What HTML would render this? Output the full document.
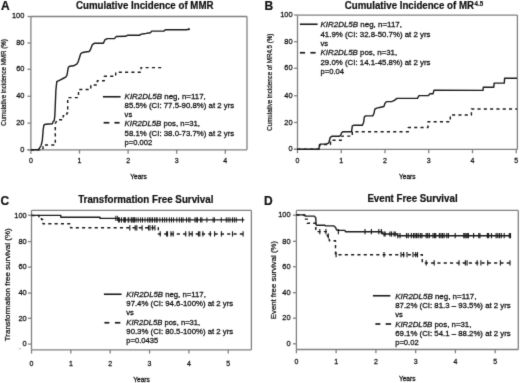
<!DOCTYPE html>
<html><head><meta charset="utf-8"><style>
html,body{margin:0;padding:0;background:#fff;overflow:hidden;width:520px;height:383px;}
svg{display:block;font-family:"Liberation Sans", sans-serif;filter:grayscale(1);}
</style></head><body>
<svg width="520" height="383" viewBox="0 0 520 383" font-family='"Liberation Sans", sans-serif'>
<style>text{stroke:#111;stroke-width:0.26px;} text[font-weight="bold"]{stroke-width:0.2px;}</style>
<defs><filter id="bl" x="0" y="0" width="520" height="383" filterUnits="userSpaceOnUse" color-interpolation-filters="sRGB"><feConvolveMatrix order="3" kernelMatrix="0.0113 0.0838 0.0113 0.0838 0.6193 0.0838 0.0113 0.0838 0.0113" edgeMode="duplicate"/></filter></defs>
<g filter="url(#bl)">
<rect width="520" height="383" fill="#fff"/>
<text x="1.1" y="9.5" font-size="12" text-anchor="start" font-weight="bold" font-style="normal" fill="#111">A</text>
<text x="76.0" y="9.0" font-size="10.2" text-anchor="start" font-weight="bold" font-style="normal" fill="#111" textLength="137.5" lengthAdjust="spacingAndGlyphs">Cumulative Incidence of MMR</text>
<line x1="30.9" y1="16.5" x2="247" y2="16.5" stroke="#808080" stroke-width="1.3"/>
<line x1="247" y1="16.5" x2="247" y2="149.85" stroke="#808080" stroke-width="1.3"/>
<line x1="30.9" y1="16.5" x2="30.9" y2="149.85" stroke="#808080" stroke-width="1.3"/>
<line x1="27.299999999999997" y1="149.85" x2="247" y2="149.85" stroke="#808080" stroke-width="1.3"/>
<line x1="27.5" y1="149.9" x2="30.9" y2="149.9" stroke="#808080" stroke-width="1.3"/>
<text x="24.4" y="152" font-size="8.0" text-anchor="end" font-weight="normal" font-style="normal" fill="#111" textLength="4.14" lengthAdjust="spacingAndGlyphs">0</text>
<line x1="27.5" y1="123.1" x2="30.9" y2="123.1" stroke="#808080" stroke-width="1.3"/>
<text x="24.4" y="125" font-size="8.0" text-anchor="end" font-weight="normal" font-style="normal" fill="#111" textLength="8.27" lengthAdjust="spacingAndGlyphs">20</text>
<line x1="27.5" y1="96.3" x2="30.9" y2="96.3" stroke="#808080" stroke-width="1.3"/>
<text x="24.4" y="98" font-size="8.0" text-anchor="end" font-weight="normal" font-style="normal" fill="#111" textLength="8.27" lengthAdjust="spacingAndGlyphs">40</text>
<line x1="27.5" y1="69.3" x2="30.9" y2="69.3" stroke="#808080" stroke-width="1.3"/>
<text x="24.4" y="71" font-size="8.0" text-anchor="end" font-weight="normal" font-style="normal" fill="#111" textLength="8.27" lengthAdjust="spacingAndGlyphs">60</text>
<line x1="27.5" y1="43" x2="30.9" y2="43" stroke="#808080" stroke-width="1.3"/>
<text x="24.4" y="45" font-size="8.0" text-anchor="end" font-weight="normal" font-style="normal" fill="#111" textLength="8.27" lengthAdjust="spacingAndGlyphs">80</text>
<line x1="27.5" y1="16.5" x2="30.9" y2="16.5" stroke="#808080" stroke-width="1.3"/>
<text x="24.4" y="18" font-size="8.0" text-anchor="end" font-weight="normal" font-style="normal" fill="#111" textLength="12.41" lengthAdjust="spacingAndGlyphs">100</text>
<line x1="30.9" y1="149.85" x2="30.9" y2="153.65" stroke="#808080" stroke-width="1.3"/>
<text x="30.9" y="163.2" font-size="7.8" text-anchor="middle" font-weight="normal" font-style="normal" fill="#111" textLength="3.9" lengthAdjust="spacingAndGlyphs">0</text>
<line x1="79.5" y1="149.85" x2="79.5" y2="153.65" stroke="#808080" stroke-width="1.3"/>
<text x="79.5" y="163.2" font-size="7.8" text-anchor="middle" font-weight="normal" font-style="normal" fill="#111" textLength="3.9" lengthAdjust="spacingAndGlyphs">1</text>
<line x1="128.1" y1="149.85" x2="128.1" y2="153.65" stroke="#808080" stroke-width="1.3"/>
<text x="128.1" y="163.2" font-size="7.8" text-anchor="middle" font-weight="normal" font-style="normal" fill="#111" textLength="3.9" lengthAdjust="spacingAndGlyphs">2</text>
<line x1="176.70000000000002" y1="149.85" x2="176.70000000000002" y2="153.65" stroke="#808080" stroke-width="1.3"/>
<text x="176.70000000000002" y="163.2" font-size="7.8" text-anchor="middle" font-weight="normal" font-style="normal" fill="#111" textLength="3.9" lengthAdjust="spacingAndGlyphs">3</text>
<line x1="225.3" y1="149.85" x2="225.3" y2="153.65" stroke="#808080" stroke-width="1.3"/>
<text x="225.3" y="163.2" font-size="7.8" text-anchor="middle" font-weight="normal" font-style="normal" fill="#111" textLength="3.9" lengthAdjust="spacingAndGlyphs">4</text>
<text x="138.5" y="179" font-size="6.6" text-anchor="middle" font-weight="normal" font-style="normal" fill="#111">Years</text>
<text transform="translate(6.3,82.5) rotate(-90)" font-size="7.0" text-anchor="middle" fill="#111" style="stroke-width:0.24px" textLength="86.6" lengthAdjust="spacingAndGlyphs">Cumulative incidence MMR (%)</text>
<line x1="102.9" y1="96.75" x2="120.6" y2="96.75" stroke="#1a1a1a" stroke-width="1.6"/>
<line x1="103.65" y1="122.75" x2="109.35" y2="122.75" stroke="#1a1a1a" stroke-width="1.7"/>
<line x1="114.4" y1="122.75" x2="119.6" y2="122.75" stroke="#1a1a1a" stroke-width="1.7"/>
<text x="124.6" y="98.8" font-size="7.6" fill="#111" textLength="81.2" lengthAdjust="spacingAndGlyphs"><tspan font-style="italic">KIR2DL5B</tspan> neg, n=117,</text>
<text x="124.6" y="108.0" font-size="7.6" fill="#111" textLength="109.7" lengthAdjust="spacingAndGlyphs">85.5% (CI: 77.5-90.8%) at 2 yrs</text>
<text x="124.6" y="117.2" font-size="7.6" fill="#111">vs</text>
<text x="124.6" y="126.4" font-size="7.6" fill="#111" textLength="75.4" lengthAdjust="spacingAndGlyphs"><tspan font-style="italic">KIR2DL5B</tspan> pos, n=31,</text>
<text x="124.6" y="135.6" font-size="7.6" fill="#111" textLength="109.7" lengthAdjust="spacingAndGlyphs">58.1% (CI: 38.0-73.7%) at 2 yrs</text>
<text x="124.6" y="144.8" font-size="7.6" fill="#111">p=0.002</text>
<circle cx="188.9" cy="29.3" r="1.0" fill="#1a1a1a"/>
<polyline points="30.90,149.70 37.80,149.70 39.50,148.20 41.10,145.50 42.30,140.60 43.20,129.50 43.90,125.20 45.40,124.20 52.40,123.80 53.20,121.40 54.20,120.90 54.80,116.00 55.30,105.00 55.90,90.00 56.80,81.70 57.80,81.10 60.40,79.80 63.00,78.50 65.70,77.20 67.00,75.20 68.30,67.40 69.60,66.30 73.50,65.80 76.70,64.10 78.00,62.20 80.70,53.70 82.00,52.70 85.20,52.00 89.10,51.50 90.40,49.80 92.40,44.60 94.30,43.30 103.40,43.20 104.80,39.90 107.20,38.60 114.40,38.60 116.30,36.50 125.50,36.30 127.40,35.30 139.40,35.30 141.30,34.10 144.20,33.70 146.20,33.40 148.10,33.00 150.60,32.70 151.60,31.10 163.80,31.10 165.40,29.70 186.50,29.70 188.70,29.30 189.50,29.30" fill="none" stroke="#1a1a1a" stroke-width="1.4" stroke-linejoin="round"/>
<polyline points="30.90,149.85 43.00,149.85 43.00,145.00 55.30,145.00 55.30,123.30 57.60,119.70 63.20,119.70 63.20,115.60 66.80,115.60 66.80,113.00 67.70,113.00 67.70,113.00 67.70,97.60 78.50,97.60 78.50,89.50 90.80,89.50 90.80,85.00 97.30,85.00 97.30,80.70 104.30,80.70 104.30,76.30 115.70,76.30 115.70,72.30 141.00,72.30 141.00,67.60 161.50,67.60" fill="none" stroke="#1a1a1a" stroke-width="1.45" stroke-linejoin="round" stroke-dasharray="3.1,3.2"/>
<text x="264.4" y="9.6" font-size="12" text-anchor="start" font-weight="bold" font-style="normal" fill="#111">B</text>
<text x="344.8" y="8.6" font-size="10.1" font-weight="bold" fill="#111" textLength="129.2" lengthAdjust="spacingAndGlyphs">Cumulative Incidence of MR</text>
<text x="474.5" y="5.5" font-size="6.6" text-anchor="start" font-weight="bold" font-style="normal" fill="#111" textLength="8.6" lengthAdjust="spacingAndGlyphs">4.5</text>
<line x1="297.5" y1="15.05" x2="517.4" y2="15.05" stroke="#808080" stroke-width="1.3"/>
<line x1="517.4" y1="15.05" x2="517.4" y2="149.45" stroke="#808080" stroke-width="1.3"/>
<line x1="297.5" y1="15.05" x2="297.5" y2="149.45" stroke="#808080" stroke-width="1.3"/>
<line x1="293.9" y1="149.45" x2="517.4" y2="149.45" stroke="#808080" stroke-width="1.3"/>
<line x1="294.1" y1="149.25" x2="297.5" y2="149.25" stroke="#808080" stroke-width="1.3"/>
<text x="292.6" y="151" font-size="8.0" text-anchor="end" font-weight="normal" font-style="normal" fill="#111" textLength="4.14" lengthAdjust="spacingAndGlyphs">0</text>
<line x1="294.1" y1="122.5" x2="297.5" y2="122.5" stroke="#808080" stroke-width="1.3"/>
<text x="292.6" y="125" font-size="8.0" text-anchor="end" font-weight="normal" font-style="normal" fill="#111" textLength="8.27" lengthAdjust="spacingAndGlyphs">20</text>
<line x1="294.1" y1="95.75" x2="297.5" y2="95.75" stroke="#808080" stroke-width="1.3"/>
<text x="292.6" y="98" font-size="8.0" text-anchor="end" font-weight="normal" font-style="normal" fill="#111" textLength="8.27" lengthAdjust="spacingAndGlyphs">40</text>
<line x1="294.1" y1="68.25" x2="297.5" y2="68.25" stroke="#808080" stroke-width="1.3"/>
<text x="292.6" y="70" font-size="8.0" text-anchor="end" font-weight="normal" font-style="normal" fill="#111" textLength="8.27" lengthAdjust="spacingAndGlyphs">60</text>
<line x1="294.1" y1="41.75" x2="297.5" y2="41.75" stroke="#808080" stroke-width="1.3"/>
<text x="292.6" y="44" font-size="8.0" text-anchor="end" font-weight="normal" font-style="normal" fill="#111" textLength="8.27" lengthAdjust="spacingAndGlyphs">80</text>
<line x1="294.1" y1="15.0" x2="297.5" y2="15.0" stroke="#808080" stroke-width="1.3"/>
<text x="292.6" y="17" font-size="8.0" text-anchor="end" font-weight="normal" font-style="normal" fill="#111" textLength="12.41" lengthAdjust="spacingAndGlyphs">100</text>
<line x1="297.5" y1="149.45" x2="297.5" y2="153.25" stroke="#808080" stroke-width="1.3"/>
<text x="297.5" y="163.2" font-size="7.8" text-anchor="middle" font-weight="normal" font-style="normal" fill="#111" textLength="3.9" lengthAdjust="spacingAndGlyphs">0</text>
<line x1="341.25" y1="149.45" x2="341.25" y2="153.25" stroke="#808080" stroke-width="1.3"/>
<text x="341.25" y="163.2" font-size="7.8" text-anchor="middle" font-weight="normal" font-style="normal" fill="#111" textLength="3.9" lengthAdjust="spacingAndGlyphs">1</text>
<line x1="385.0" y1="149.45" x2="385.0" y2="153.25" stroke="#808080" stroke-width="1.3"/>
<text x="385.0" y="163.2" font-size="7.8" text-anchor="middle" font-weight="normal" font-style="normal" fill="#111" textLength="3.9" lengthAdjust="spacingAndGlyphs">2</text>
<line x1="428.75" y1="149.45" x2="428.75" y2="153.25" stroke="#808080" stroke-width="1.3"/>
<text x="428.75" y="163.2" font-size="7.8" text-anchor="middle" font-weight="normal" font-style="normal" fill="#111" textLength="3.9" lengthAdjust="spacingAndGlyphs">3</text>
<line x1="472.5" y1="149.45" x2="472.5" y2="153.25" stroke="#808080" stroke-width="1.3"/>
<text x="472.5" y="163.2" font-size="7.8" text-anchor="middle" font-weight="normal" font-style="normal" fill="#111" textLength="3.9" lengthAdjust="spacingAndGlyphs">4</text>
<line x1="516.25" y1="149.45" x2="516.25" y2="153.25" stroke="#808080" stroke-width="1.3"/>
<text x="516.25" y="163.2" font-size="7.8" text-anchor="middle" font-weight="normal" font-style="normal" fill="#111" textLength="3.9" lengthAdjust="spacingAndGlyphs">5</text>
<text x="407.3" y="179" font-size="6.6" text-anchor="middle" font-weight="normal" font-style="normal" fill="#111">Years</text>
<text transform="translate(272.3,82.2) rotate(-90)" font-size="7.0" text-anchor="middle" fill="#111" style="stroke-width:0.24px" textLength="97.2" lengthAdjust="spacingAndGlyphs">Cumulative incidence of MR4.5 (%)</text>
<line x1="299.9" y1="24.25" x2="317.6" y2="24.25" stroke="#1a1a1a" stroke-width="1.6"/>
<line x1="299.9" y1="52.75" x2="305.1" y2="52.75" stroke="#1a1a1a" stroke-width="1.7"/>
<line x1="310.4" y1="52.75" x2="315.6" y2="52.75" stroke="#1a1a1a" stroke-width="1.7"/>
<text x="320.5" y="27.2" font-size="7.6" fill="#111" textLength="81.5" lengthAdjust="spacingAndGlyphs"><tspan font-style="italic">KIR2DL5B</tspan> neg, n=117,</text>
<text x="320.5" y="36.6" font-size="7.6" fill="#111" textLength="110.0" lengthAdjust="spacingAndGlyphs">41.9% (CI: 32.8-50.7%) at 2 yrs</text>
<text x="320.5" y="46.0" font-size="7.6" fill="#111">vs</text>
<text x="320.5" y="55.4" font-size="7.6" fill="#111" textLength="76.7" lengthAdjust="spacingAndGlyphs"><tspan font-style="italic">KIR2DL5B</tspan> pos, n=31,</text>
<text x="320.5" y="64.8" font-size="7.6" fill="#111" textLength="110.0" lengthAdjust="spacingAndGlyphs">29.0% (CI: 14.1-45.8%) at 2 yrs</text>
<text x="320.5" y="74.2" font-size="7.6" fill="#111">p=0.04</text>
<polyline points="297.40,149.30 318.90,149.30 319.40,144.80 320.90,144.10 326.30,144.10 328.80,142.80 330.30,137.30 331.80,136.30 339.20,136.30 340.70,135.30 341.50,132.90 342.70,131.70 351.60,131.70 352.30,125.90 354.10,125.20 362.40,125.20 363.70,122.20 364.30,117.00 365.70,115.90 372.80,115.90 374.10,113.00 374.80,109.10 376.70,108.10 380.70,107.20 383.90,106.50 385.00,103.30 386.50,101.60 391.70,101.60 394.30,100.40 397.00,98.40 417.40,98.30 419.00,95.60 428.40,95.60 430.00,93.70 433.00,93.70 434.00,90.30 483.00,90.40 483.30,87.20 493.80,87.20 494.10,83.10 504.30,83.10 504.60,78.30 517.00,78.30" fill="none" stroke="#1a1a1a" stroke-width="1.4" stroke-linejoin="round"/>
<polyline points="297.40,149.30 319.80,149.30 319.80,144.40 330.50,144.40 330.50,140.30 341.90,140.30 341.90,136.10 352.30,136.10 352.30,131.70 408.30,131.70 408.30,127.50 428.00,127.50 428.00,121.70 450.30,121.70 450.30,115.00 471.40,115.00 471.40,108.90 517.00,108.90" fill="none" stroke="#1a1a1a" stroke-width="1.45" stroke-linejoin="round" stroke-dasharray="3.1,3.2"/>
<text x="0.6" y="204.5" font-size="12" text-anchor="start" font-weight="bold" font-style="normal" fill="#111">C</text>
<text x="78.2" y="202.9" font-size="10.2" text-anchor="start" font-weight="bold" font-style="normal" fill="#111" textLength="135.2" lengthAdjust="spacingAndGlyphs">Transformation Free Survival</text>
<line x1="31.5" y1="210.4" x2="251.4" y2="210.4" stroke="#808080" stroke-width="1.3"/>
<line x1="251.4" y1="210.4" x2="251.4" y2="349.8" stroke="#808080" stroke-width="1.3"/>
<line x1="31.5" y1="210.4" x2="31.5" y2="349.8" stroke="#808080" stroke-width="1.3"/>
<line x1="31.5" y1="349.8" x2="251.4" y2="349.8" stroke="#808080" stroke-width="1.3"/>
<line x1="28.1" y1="344.1" x2="31.5" y2="344.1" stroke="#808080" stroke-width="1.3"/>
<text x="26.7" y="346" font-size="8.0" text-anchor="end" font-weight="normal" font-style="normal" fill="#111" textLength="4.14" lengthAdjust="spacingAndGlyphs">0</text>
<line x1="28.1" y1="318.3" x2="31.5" y2="318.3" stroke="#808080" stroke-width="1.3"/>
<text x="26.7" y="321" font-size="8.0" text-anchor="end" font-weight="normal" font-style="normal" fill="#111" textLength="8.27" lengthAdjust="spacingAndGlyphs">20</text>
<line x1="28.1" y1="293.1" x2="31.5" y2="293.1" stroke="#808080" stroke-width="1.3"/>
<text x="26.7" y="295" font-size="8.0" text-anchor="end" font-weight="normal" font-style="normal" fill="#111" textLength="8.27" lengthAdjust="spacingAndGlyphs">40</text>
<line x1="28.1" y1="267.1" x2="31.5" y2="267.1" stroke="#808080" stroke-width="1.3"/>
<text x="26.7" y="269" font-size="8.0" text-anchor="end" font-weight="normal" font-style="normal" fill="#111" textLength="8.27" lengthAdjust="spacingAndGlyphs">60</text>
<line x1="28.1" y1="241.6" x2="31.5" y2="241.6" stroke="#808080" stroke-width="1.3"/>
<text x="26.7" y="244" font-size="8.0" text-anchor="end" font-weight="normal" font-style="normal" fill="#111" textLength="8.27" lengthAdjust="spacingAndGlyphs">80</text>
<line x1="28.1" y1="215.2" x2="31.5" y2="215.2" stroke="#808080" stroke-width="1.3"/>
<text x="26.7" y="218" font-size="8.0" text-anchor="end" font-weight="normal" font-style="normal" fill="#111" textLength="12.41" lengthAdjust="spacingAndGlyphs">100</text>
<line x1="31.5" y1="349.8" x2="31.5" y2="353.6" stroke="#808080" stroke-width="1.3"/>
<text x="31.5" y="365.8" font-size="7.8" text-anchor="middle" font-weight="normal" font-style="normal" fill="#111" textLength="3.9" lengthAdjust="spacingAndGlyphs">0</text>
<line x1="70.85" y1="349.8" x2="70.85" y2="353.6" stroke="#808080" stroke-width="1.3"/>
<text x="70.85" y="365.8" font-size="7.8" text-anchor="middle" font-weight="normal" font-style="normal" fill="#111" textLength="3.9" lengthAdjust="spacingAndGlyphs">1</text>
<line x1="110.2" y1="349.8" x2="110.2" y2="353.6" stroke="#808080" stroke-width="1.3"/>
<text x="110.2" y="365.8" font-size="7.8" text-anchor="middle" font-weight="normal" font-style="normal" fill="#111" textLength="3.9" lengthAdjust="spacingAndGlyphs">2</text>
<line x1="149.55" y1="349.8" x2="149.55" y2="353.6" stroke="#808080" stroke-width="1.3"/>
<text x="149.55" y="365.8" font-size="7.8" text-anchor="middle" font-weight="normal" font-style="normal" fill="#111" textLength="3.9" lengthAdjust="spacingAndGlyphs">3</text>
<line x1="188.9" y1="349.8" x2="188.9" y2="353.6" stroke="#808080" stroke-width="1.3"/>
<text x="188.9" y="365.8" font-size="7.8" text-anchor="middle" font-weight="normal" font-style="normal" fill="#111" textLength="3.9" lengthAdjust="spacingAndGlyphs">4</text>
<line x1="228.25" y1="349.8" x2="228.25" y2="353.6" stroke="#808080" stroke-width="1.3"/>
<text x="228.25" y="365.8" font-size="7.8" text-anchor="middle" font-weight="normal" font-style="normal" fill="#111" textLength="3.9" lengthAdjust="spacingAndGlyphs">5</text>
<text x="141.5" y="382" font-size="6.6" text-anchor="middle" font-weight="normal" font-style="normal" fill="#111">Years</text>
<text transform="translate(10.3,284.8) rotate(-90)" font-size="7.95" text-anchor="middle" fill="#111" style="stroke-width:0.24px" textLength="112.8" lengthAdjust="spacingAndGlyphs">Transformation free survival (%)</text>
<line x1="103.9" y1="294.25" x2="121.6" y2="294.25" stroke="#1a1a1a" stroke-width="1.6"/>
<line x1="104.4" y1="322.75" x2="109.35" y2="322.75" stroke="#1a1a1a" stroke-width="1.7"/>
<line x1="114.9" y1="322.75" x2="120.35" y2="322.75" stroke="#1a1a1a" stroke-width="1.7"/>
<text x="126.3" y="296.7" font-size="7.6" fill="#111" textLength="79.5" lengthAdjust="spacingAndGlyphs"><tspan font-style="italic">KIR2DL5B</tspan> neg, n=117,</text>
<text x="126.3" y="306.0" font-size="7.6" fill="#111" textLength="106.9" lengthAdjust="spacingAndGlyphs">97.4% (CI: 94.6-100%) at 2 yrs</text>
<text x="126.3" y="315.3" font-size="7.6" fill="#111">vs</text>
<text x="126.3" y="324.6" font-size="7.6" fill="#111" textLength="73.9" lengthAdjust="spacingAndGlyphs"><tspan font-style="italic">KIR2DL5B</tspan> pos, n=31,</text>
<text x="126.3" y="333.9" font-size="7.6" fill="#111" textLength="106.9" lengthAdjust="spacingAndGlyphs">90.3% (CI: 80.5-100%) at 2 yrs</text>
<text x="126.3" y="343.2" font-size="7.6" fill="#111">p=0.0435</text>
<polyline points="31.50,215.40 60.80,215.40 60.80,217.20 100.00,217.20 100.00,218.40 117.80,218.40 117.80,219.90 244.30,219.90" fill="none" stroke="#1a1a1a" stroke-width="1.4" stroke-linejoin="round"/>
<polyline points="31.50,215.40 39.00,215.40 39.00,216.70 41.50,216.70 41.50,219.50 43.00,219.50 43.00,223.80 70.60,223.80 70.60,227.80 158.30,227.80 158.30,233.90 243.40,233.90" fill="none" stroke="#1a1a1a" stroke-width="1.45" stroke-linejoin="round" stroke-dasharray="3.1,3.2"/>
<line x1="115.8" y1="215.8" x2="115.8" y2="221.0" stroke="#1a1a1a" stroke-width="1.0"/>
<line x1="117.3" y1="215.8" x2="117.3" y2="221.0" stroke="#1a1a1a" stroke-width="1.0"/>
<line x1="118.5" y1="217.3" x2="118.5" y2="222.5" stroke="#1a1a1a" stroke-width="1.0"/>
<line x1="119.6" y1="217.3" x2="119.6" y2="222.5" stroke="#1a1a1a" stroke-width="1.0"/>
<line x1="121.5" y1="217.3" x2="121.5" y2="222.5" stroke="#1a1a1a" stroke-width="1.0"/>
<line x1="123.8" y1="217.3" x2="123.8" y2="222.5" stroke="#1a1a1a" stroke-width="1.0"/>
<line x1="124.6" y1="217.3" x2="124.6" y2="222.5" stroke="#1a1a1a" stroke-width="1.0"/>
<line x1="125.4" y1="217.3" x2="125.4" y2="222.5" stroke="#1a1a1a" stroke-width="1.0"/>
<line x1="128.1" y1="217.3" x2="128.1" y2="222.5" stroke="#1a1a1a" stroke-width="1.0"/>
<line x1="128.8" y1="217.3" x2="128.8" y2="222.5" stroke="#1a1a1a" stroke-width="1.0"/>
<line x1="131.2" y1="217.3" x2="131.2" y2="222.5" stroke="#1a1a1a" stroke-width="1.0"/>
<line x1="131.9" y1="217.3" x2="131.9" y2="222.5" stroke="#1a1a1a" stroke-width="1.0"/>
<line x1="133.1" y1="217.3" x2="133.1" y2="222.5" stroke="#1a1a1a" stroke-width="1.0"/>
<line x1="133.8" y1="217.3" x2="133.8" y2="222.5" stroke="#1a1a1a" stroke-width="1.0"/>
<line x1="134.6" y1="217.3" x2="134.6" y2="222.5" stroke="#1a1a1a" stroke-width="1.0"/>
<line x1="136.1" y1="217.3" x2="136.1" y2="222.5" stroke="#1a1a1a" stroke-width="1.0"/>
<line x1="138.2" y1="217.3" x2="138.2" y2="222.5" stroke="#1a1a1a" stroke-width="1.0"/>
<line x1="140.6" y1="217.3" x2="140.6" y2="222.5" stroke="#1a1a1a" stroke-width="1.0"/>
<line x1="142.5" y1="217.3" x2="142.5" y2="222.5" stroke="#1a1a1a" stroke-width="1.0"/>
<line x1="145" y1="217.3" x2="145" y2="222.5" stroke="#1a1a1a" stroke-width="1.0"/>
<line x1="147.7" y1="217.3" x2="147.7" y2="222.5" stroke="#1a1a1a" stroke-width="1.0"/>
<line x1="149.3" y1="217.3" x2="149.3" y2="222.5" stroke="#1a1a1a" stroke-width="1.0"/>
<line x1="150.9" y1="217.3" x2="150.9" y2="222.5" stroke="#1a1a1a" stroke-width="1.0"/>
<line x1="152.5" y1="217.3" x2="152.5" y2="222.5" stroke="#1a1a1a" stroke-width="1.0"/>
<line x1="154.6" y1="217.3" x2="154.6" y2="222.5" stroke="#1a1a1a" stroke-width="1.0"/>
<line x1="156.2" y1="217.3" x2="156.2" y2="222.5" stroke="#1a1a1a" stroke-width="1.0"/>
<line x1="157.2" y1="217.3" x2="157.2" y2="222.5" stroke="#1a1a1a" stroke-width="1.0"/>
<line x1="159.9" y1="217.3" x2="159.9" y2="222.5" stroke="#1a1a1a" stroke-width="1.0"/>
<line x1="162.5" y1="217.3" x2="162.5" y2="222.5" stroke="#1a1a1a" stroke-width="1.0"/>
<line x1="164.6" y1="217.3" x2="164.6" y2="222.5" stroke="#1a1a1a" stroke-width="1.0"/>
<line x1="166.7" y1="217.3" x2="166.7" y2="222.5" stroke="#1a1a1a" stroke-width="1.0"/>
<line x1="169.4" y1="217.3" x2="169.4" y2="222.5" stroke="#1a1a1a" stroke-width="1.0"/>
<line x1="171.5" y1="217.3" x2="171.5" y2="222.5" stroke="#1a1a1a" stroke-width="1.0"/>
<line x1="173.6" y1="217.3" x2="173.6" y2="222.5" stroke="#1a1a1a" stroke-width="1.0"/>
<line x1="176.8" y1="217.3" x2="176.8" y2="222.5" stroke="#1a1a1a" stroke-width="1.0"/>
<line x1="179.4" y1="217.3" x2="179.4" y2="222.5" stroke="#1a1a1a" stroke-width="1.0"/>
<line x1="181.5" y1="217.3" x2="181.5" y2="222.5" stroke="#1a1a1a" stroke-width="1.0"/>
<line x1="183.1" y1="217.3" x2="183.1" y2="222.5" stroke="#1a1a1a" stroke-width="1.0"/>
<line x1="186.5" y1="217.3" x2="186.5" y2="222.5" stroke="#1a1a1a" stroke-width="1.0"/>
<line x1="188.75" y1="217.3" x2="188.75" y2="222.5" stroke="#1a1a1a" stroke-width="1.0"/>
<line x1="190" y1="217.3" x2="190" y2="222.5" stroke="#1a1a1a" stroke-width="1.0"/>
<line x1="195" y1="217.3" x2="195" y2="222.5" stroke="#1a1a1a" stroke-width="1.0"/>
<line x1="196.25" y1="217.3" x2="196.25" y2="222.5" stroke="#1a1a1a" stroke-width="1.0"/>
<line x1="197.5" y1="217.3" x2="197.5" y2="222.5" stroke="#1a1a1a" stroke-width="1.0"/>
<line x1="200.6" y1="217.3" x2="200.6" y2="222.5" stroke="#1a1a1a" stroke-width="1.0"/>
<line x1="201.9" y1="217.3" x2="201.9" y2="222.5" stroke="#1a1a1a" stroke-width="1.0"/>
<line x1="206.9" y1="217.3" x2="206.9" y2="222.5" stroke="#1a1a1a" stroke-width="1.0"/>
<line x1="213.1" y1="217.3" x2="213.1" y2="222.5" stroke="#1a1a1a" stroke-width="1.0"/>
<line x1="214.4" y1="217.3" x2="214.4" y2="222.5" stroke="#1a1a1a" stroke-width="1.0"/>
<line x1="221.25" y1="217.3" x2="221.25" y2="222.5" stroke="#1a1a1a" stroke-width="1.0"/>
<line x1="226.25" y1="217.3" x2="226.25" y2="222.5" stroke="#1a1a1a" stroke-width="1.0"/>
<line x1="228.1" y1="217.3" x2="228.1" y2="222.5" stroke="#1a1a1a" stroke-width="1.0"/>
<line x1="230" y1="217.3" x2="230" y2="222.5" stroke="#1a1a1a" stroke-width="1.0"/>
<line x1="232.5" y1="217.3" x2="232.5" y2="222.5" stroke="#1a1a1a" stroke-width="1.0"/>
<line x1="234.4" y1="217.3" x2="234.4" y2="222.5" stroke="#1a1a1a" stroke-width="1.0"/>
<line x1="236.25" y1="217.3" x2="236.25" y2="222.5" stroke="#1a1a1a" stroke-width="1.0"/>
<line x1="242.5" y1="217.3" x2="242.5" y2="222.5" stroke="#1a1a1a" stroke-width="1.0"/>
<line x1="129.8" y1="225.20000000000002" x2="129.8" y2="230.4" stroke="#1a1a1a" stroke-width="1.15"/>
<line x1="135.2" y1="225.20000000000002" x2="135.2" y2="230.4" stroke="#1a1a1a" stroke-width="1.15"/>
<line x1="136.8" y1="225.20000000000002" x2="136.8" y2="230.4" stroke="#1a1a1a" stroke-width="1.15"/>
<line x1="142.1" y1="225.20000000000002" x2="142.1" y2="230.4" stroke="#1a1a1a" stroke-width="1.15"/>
<line x1="148.6" y1="225.20000000000002" x2="148.6" y2="230.4" stroke="#1a1a1a" stroke-width="1.15"/>
<line x1="150.0" y1="225.20000000000002" x2="150.0" y2="230.4" stroke="#1a1a1a" stroke-width="1.15"/>
<line x1="152.5" y1="225.20000000000002" x2="152.5" y2="230.4" stroke="#1a1a1a" stroke-width="1.15"/>
<line x1="154.9" y1="225.20000000000002" x2="154.9" y2="230.4" stroke="#1a1a1a" stroke-width="1.15"/>
<line x1="160.2" y1="231.3" x2="160.2" y2="236.5" stroke="#1a1a1a" stroke-width="1.15"/>
<line x1="166.7" y1="231.3" x2="166.7" y2="236.5" stroke="#1a1a1a" stroke-width="1.15"/>
<line x1="167.5" y1="231.3" x2="167.5" y2="236.5" stroke="#1a1a1a" stroke-width="1.15"/>
<line x1="171" y1="231.3" x2="171" y2="236.5" stroke="#1a1a1a" stroke-width="1.15"/>
<line x1="173.2" y1="231.3" x2="173.2" y2="236.5" stroke="#1a1a1a" stroke-width="1.15"/>
<line x1="185.7" y1="231.3" x2="185.7" y2="236.5" stroke="#1a1a1a" stroke-width="1.15"/>
<line x1="189.2" y1="231.3" x2="189.2" y2="236.5" stroke="#1a1a1a" stroke-width="1.15"/>
<line x1="192.2" y1="231.3" x2="192.2" y2="236.5" stroke="#1a1a1a" stroke-width="1.15"/>
<line x1="198.5" y1="231.3" x2="198.5" y2="236.5" stroke="#1a1a1a" stroke-width="1.15"/>
<line x1="199.8" y1="231.3" x2="199.8" y2="236.5" stroke="#1a1a1a" stroke-width="1.15"/>
<line x1="202.9" y1="231.3" x2="202.9" y2="236.5" stroke="#1a1a1a" stroke-width="1.15"/>
<line x1="210.3" y1="231.3" x2="210.3" y2="236.5" stroke="#1a1a1a" stroke-width="1.15"/>
<line x1="214.6" y1="231.3" x2="214.6" y2="236.5" stroke="#1a1a1a" stroke-width="1.15"/>
<line x1="221.4" y1="231.3" x2="221.4" y2="236.5" stroke="#1a1a1a" stroke-width="1.15"/>
<line x1="232.5" y1="231.3" x2="232.5" y2="236.5" stroke="#1a1a1a" stroke-width="1.15"/>
<line x1="243.1" y1="231.3" x2="243.1" y2="236.5" stroke="#1a1a1a" stroke-width="1.15"/>
<line x1="18.6" y1="348.8" x2="21.2" y2="348.6" stroke="#c8c8c8" stroke-width="1.2"/>
<text x="264.1" y="204.6" font-size="12" text-anchor="start" font-weight="bold" font-style="normal" fill="#111">D</text>
<text x="367.4" y="202.0" font-size="10.1" text-anchor="start" font-weight="bold" font-style="normal" fill="#111" textLength="90.2" lengthAdjust="spacingAndGlyphs">Event Free Survival</text>
<line x1="296.4" y1="210.4" x2="518.3" y2="210.4" stroke="#808080" stroke-width="1.3"/>
<line x1="518.3" y1="210.4" x2="518.3" y2="349.5" stroke="#808080" stroke-width="1.3"/>
<line x1="296.4" y1="210.4" x2="296.4" y2="349.5" stroke="#808080" stroke-width="1.3"/>
<line x1="296.4" y1="349.5" x2="518.3" y2="349.5" stroke="#808080" stroke-width="1.3"/>
<line x1="293.0" y1="343.8" x2="296.4" y2="343.8" stroke="#808080" stroke-width="1.3"/>
<text x="290.6" y="346" font-size="8.0" text-anchor="end" font-weight="normal" font-style="normal" fill="#111" textLength="4.14" lengthAdjust="spacingAndGlyphs">0</text>
<line x1="293.0" y1="318.2" x2="296.4" y2="318.2" stroke="#808080" stroke-width="1.3"/>
<text x="290.6" y="320" font-size="8.0" text-anchor="end" font-weight="normal" font-style="normal" fill="#111" textLength="8.27" lengthAdjust="spacingAndGlyphs">20</text>
<line x1="293.0" y1="292.7" x2="296.4" y2="292.7" stroke="#808080" stroke-width="1.3"/>
<text x="290.6" y="295" font-size="8.0" text-anchor="end" font-weight="normal" font-style="normal" fill="#111" textLength="8.27" lengthAdjust="spacingAndGlyphs">40</text>
<line x1="293.0" y1="266.75" x2="296.4" y2="266.75" stroke="#808080" stroke-width="1.3"/>
<text x="290.6" y="269" font-size="8.0" text-anchor="end" font-weight="normal" font-style="normal" fill="#111" textLength="8.27" lengthAdjust="spacingAndGlyphs">60</text>
<line x1="293.0" y1="241.35" x2="296.4" y2="241.35" stroke="#808080" stroke-width="1.3"/>
<text x="290.6" y="244" font-size="8.0" text-anchor="end" font-weight="normal" font-style="normal" fill="#111" textLength="8.27" lengthAdjust="spacingAndGlyphs">80</text>
<line x1="293.0" y1="215.2" x2="296.4" y2="215.2" stroke="#808080" stroke-width="1.3"/>
<text x="290.6" y="217" font-size="8.0" text-anchor="end" font-weight="normal" font-style="normal" fill="#111" textLength="12.41" lengthAdjust="spacingAndGlyphs">100</text>
<line x1="296.4" y1="349.5" x2="296.4" y2="353.3" stroke="#808080" stroke-width="1.3"/>
<text x="296.4" y="364.2" font-size="7.8" text-anchor="middle" font-weight="normal" font-style="normal" fill="#111" textLength="3.9" lengthAdjust="spacingAndGlyphs">0</text>
<line x1="336.15" y1="349.5" x2="336.15" y2="353.3" stroke="#808080" stroke-width="1.3"/>
<text x="336.15" y="364.2" font-size="7.8" text-anchor="middle" font-weight="normal" font-style="normal" fill="#111" textLength="3.9" lengthAdjust="spacingAndGlyphs">1</text>
<line x1="375.9" y1="349.5" x2="375.9" y2="353.3" stroke="#808080" stroke-width="1.3"/>
<text x="375.9" y="364.2" font-size="7.8" text-anchor="middle" font-weight="normal" font-style="normal" fill="#111" textLength="3.9" lengthAdjust="spacingAndGlyphs">2</text>
<line x1="415.65" y1="349.5" x2="415.65" y2="353.3" stroke="#808080" stroke-width="1.3"/>
<text x="415.65" y="364.2" font-size="7.8" text-anchor="middle" font-weight="normal" font-style="normal" fill="#111" textLength="3.9" lengthAdjust="spacingAndGlyphs">3</text>
<line x1="455.4" y1="349.5" x2="455.4" y2="353.3" stroke="#808080" stroke-width="1.3"/>
<text x="455.4" y="364.2" font-size="7.8" text-anchor="middle" font-weight="normal" font-style="normal" fill="#111" textLength="3.9" lengthAdjust="spacingAndGlyphs">4</text>
<line x1="495.15" y1="349.5" x2="495.15" y2="353.3" stroke="#808080" stroke-width="1.3"/>
<text x="495.15" y="364.2" font-size="7.8" text-anchor="middle" font-weight="normal" font-style="normal" fill="#111" textLength="3.9" lengthAdjust="spacingAndGlyphs">5</text>
<text x="407.2" y="380.5" font-size="6.6" text-anchor="middle" font-weight="normal" font-style="normal" fill="#111">Years</text>
<text transform="translate(276.4,280.1) rotate(-90)" font-size="7.8" text-anchor="middle" fill="#111" style="stroke-width:0.24px" textLength="78.2" lengthAdjust="spacingAndGlyphs">Event free survival (%)</text>
<line x1="372.9" y1="295.75" x2="390.35" y2="295.75" stroke="#1a1a1a" stroke-width="1.6"/>
<line x1="375.4" y1="324" x2="380.35" y2="324" stroke="#1a1a1a" stroke-width="1.7"/>
<line x1="385.65" y1="324" x2="391.1" y2="324" stroke="#1a1a1a" stroke-width="1.7"/>
<text x="395.2" y="298.6" font-size="7.6" fill="#111" textLength="81.3" lengthAdjust="spacingAndGlyphs"><tspan font-style="italic">KIR2DL5B</tspan> neg, n=117,</text>
<text x="395.2" y="307.9" font-size="7.6" fill="#111" textLength="115.6" lengthAdjust="spacingAndGlyphs">87.2% (CI: 81.3 – 93.5%) at 2 yrs</text>
<text x="395.2" y="317.2" font-size="7.6" fill="#111">vs</text>
<text x="395.2" y="326.5" font-size="7.6" fill="#111" textLength="76.2" lengthAdjust="spacingAndGlyphs"><tspan font-style="italic">KIR2DL5B</tspan> pos, n=31,</text>
<text x="395.2" y="335.8" font-size="7.6" fill="#111" textLength="115.6" lengthAdjust="spacingAndGlyphs">69.1% (CI: 54.1 – 88.2%) at 2 yrs</text>
<text x="395.2" y="345.1" font-size="7.6" fill="#111">p=0.02</text>
<polyline points="296.40,214.90 304.70,214.90 305.50,216.10 314.30,216.10 315.80,217.90 316.00,224.40 316.80,225.20 324.90,225.20 325.50,225.90 333.60,225.90 335.50,227.30 336.50,229.70 337.50,230.40 344.80,230.40 345.50,231.70 382.00,231.70 383.00,234.00 396.70,234.00 397.50,235.70 510.50,235.70" fill="none" stroke="#1a1a1a" stroke-width="1.4" stroke-linejoin="round"/>
<polyline points="296.40,214.90 304.50,214.90 304.50,219.10 307.30,219.10 307.30,223.30 315.80,223.30 315.80,231.60 327.30,231.60 327.30,236.00 329.30,236.00 329.30,240.80 335.50,240.80 335.50,254.70 422.30,254.70 422.30,262.90 511.00,262.90" fill="none" stroke="#1a1a1a" stroke-width="1.45" stroke-linejoin="round" stroke-dasharray="3.1,3.2"/>
<line x1="338.4" y1="229.1" x2="338.4" y2="234.29999999999998" stroke="#1a1a1a" stroke-width="1.15"/>
<line x1="365" y1="229.1" x2="365" y2="234.29999999999998" stroke="#1a1a1a" stroke-width="1.15"/>
<line x1="371.4" y1="229.1" x2="371.4" y2="234.29999999999998" stroke="#1a1a1a" stroke-width="1.15"/>
<line x1="378.8" y1="229.1" x2="378.8" y2="234.29999999999998" stroke="#1a1a1a" stroke-width="1.15"/>
<line x1="381.4" y1="229.1" x2="381.4" y2="234.29999999999998" stroke="#1a1a1a" stroke-width="1.15"/>
<line x1="384.1" y1="231.4" x2="384.1" y2="236.6" stroke="#1a1a1a" stroke-width="1.15"/>
<line x1="385.1" y1="231.4" x2="385.1" y2="236.6" stroke="#1a1a1a" stroke-width="1.15"/>
<line x1="389.9" y1="231.4" x2="389.9" y2="236.6" stroke="#1a1a1a" stroke-width="1.15"/>
<line x1="391.5" y1="231.4" x2="391.5" y2="236.6" stroke="#1a1a1a" stroke-width="1.15"/>
<line x1="394.1" y1="231.4" x2="394.1" y2="236.6" stroke="#1a1a1a" stroke-width="1.15"/>
<line x1="395.2" y1="231.4" x2="395.2" y2="236.6" stroke="#1a1a1a" stroke-width="1.15"/>
<line x1="397.8" y1="233.1" x2="397.8" y2="238.29999999999998" stroke="#1a1a1a" stroke-width="1.15"/>
<line x1="400" y1="233.1" x2="400" y2="238.29999999999998" stroke="#1a1a1a" stroke-width="1.15"/>
<line x1="406.5" y1="233.1" x2="406.5" y2="238.29999999999998" stroke="#1a1a1a" stroke-width="1.15"/>
<line x1="408.2" y1="233.1" x2="408.2" y2="238.29999999999998" stroke="#1a1a1a" stroke-width="1.15"/>
<line x1="411.3" y1="233.1" x2="411.3" y2="238.29999999999998" stroke="#1a1a1a" stroke-width="1.15"/>
<line x1="413.5" y1="233.1" x2="413.5" y2="238.29999999999998" stroke="#1a1a1a" stroke-width="1.15"/>
<line x1="415" y1="233.1" x2="415" y2="238.29999999999998" stroke="#1a1a1a" stroke-width="1.15"/>
<line x1="416.6" y1="233.1" x2="416.6" y2="238.29999999999998" stroke="#1a1a1a" stroke-width="1.15"/>
<line x1="418.2" y1="233.1" x2="418.2" y2="238.29999999999998" stroke="#1a1a1a" stroke-width="1.15"/>
<line x1="420.3" y1="233.1" x2="420.3" y2="238.29999999999998" stroke="#1a1a1a" stroke-width="1.15"/>
<line x1="421.9" y1="233.1" x2="421.9" y2="238.29999999999998" stroke="#1a1a1a" stroke-width="1.15"/>
<line x1="426.2" y1="233.1" x2="426.2" y2="238.29999999999998" stroke="#1a1a1a" stroke-width="1.15"/>
<line x1="427.7" y1="233.1" x2="427.7" y2="238.29999999999998" stroke="#1a1a1a" stroke-width="1.15"/>
<line x1="429.3" y1="233.1" x2="429.3" y2="238.29999999999998" stroke="#1a1a1a" stroke-width="1.15"/>
<line x1="433" y1="233.1" x2="433" y2="238.29999999999998" stroke="#1a1a1a" stroke-width="1.15"/>
<line x1="434.6" y1="233.1" x2="434.6" y2="238.29999999999998" stroke="#1a1a1a" stroke-width="1.15"/>
<line x1="435.7" y1="233.1" x2="435.7" y2="238.29999999999998" stroke="#1a1a1a" stroke-width="1.15"/>
<line x1="439.4" y1="233.1" x2="439.4" y2="238.29999999999998" stroke="#1a1a1a" stroke-width="1.15"/>
<line x1="441" y1="233.1" x2="441" y2="238.29999999999998" stroke="#1a1a1a" stroke-width="1.15"/>
<line x1="442.5" y1="233.1" x2="442.5" y2="238.29999999999998" stroke="#1a1a1a" stroke-width="1.15"/>
<line x1="444.1" y1="233.1" x2="444.1" y2="238.29999999999998" stroke="#1a1a1a" stroke-width="1.15"/>
<line x1="446.8" y1="233.1" x2="446.8" y2="238.29999999999998" stroke="#1a1a1a" stroke-width="1.15"/>
<line x1="448.4" y1="233.1" x2="448.4" y2="238.29999999999998" stroke="#1a1a1a" stroke-width="1.15"/>
<line x1="455.2" y1="233.1" x2="455.2" y2="238.29999999999998" stroke="#1a1a1a" stroke-width="1.15"/>
<line x1="463.8" y1="233.1" x2="463.8" y2="238.29999999999998" stroke="#1a1a1a" stroke-width="1.15"/>
<line x1="464.9" y1="233.1" x2="464.9" y2="238.29999999999998" stroke="#1a1a1a" stroke-width="1.15"/>
<line x1="466.1" y1="233.1" x2="466.1" y2="238.29999999999998" stroke="#1a1a1a" stroke-width="1.15"/>
<line x1="467.2" y1="233.1" x2="467.2" y2="238.29999999999998" stroke="#1a1a1a" stroke-width="1.15"/>
<line x1="468.4" y1="233.1" x2="468.4" y2="238.29999999999998" stroke="#1a1a1a" stroke-width="1.15"/>
<line x1="473.6" y1="233.1" x2="473.6" y2="238.29999999999998" stroke="#1a1a1a" stroke-width="1.15"/>
<line x1="478.8" y1="233.1" x2="478.8" y2="238.29999999999998" stroke="#1a1a1a" stroke-width="1.15"/>
<line x1="479.9" y1="233.1" x2="479.9" y2="238.29999999999998" stroke="#1a1a1a" stroke-width="1.15"/>
<line x1="487.4" y1="233.1" x2="487.4" y2="238.29999999999998" stroke="#1a1a1a" stroke-width="1.15"/>
<line x1="488.6" y1="233.1" x2="488.6" y2="238.29999999999998" stroke="#1a1a1a" stroke-width="1.15"/>
<line x1="491.5" y1="233.1" x2="491.5" y2="238.29999999999998" stroke="#1a1a1a" stroke-width="1.15"/>
<line x1="496.1" y1="233.1" x2="496.1" y2="238.29999999999998" stroke="#1a1a1a" stroke-width="1.15"/>
<line x1="497.8" y1="233.1" x2="497.8" y2="238.29999999999998" stroke="#1a1a1a" stroke-width="1.15"/>
<line x1="499.5" y1="233.1" x2="499.5" y2="238.29999999999998" stroke="#1a1a1a" stroke-width="1.15"/>
<line x1="501.3" y1="233.1" x2="501.3" y2="238.29999999999998" stroke="#1a1a1a" stroke-width="1.15"/>
<line x1="504.2" y1="233.1" x2="504.2" y2="238.29999999999998" stroke="#1a1a1a" stroke-width="1.15"/>
<line x1="509.3" y1="233.1" x2="509.3" y2="238.29999999999998" stroke="#1a1a1a" stroke-width="1.15"/>
<line x1="510.5" y1="233.1" x2="510.5" y2="238.29999999999998" stroke="#1a1a1a" stroke-width="1.15"/>
<line x1="319.8" y1="229.0" x2="319.8" y2="234.2" stroke="#1a1a1a" stroke-width="1.15"/>
<line x1="325.9" y1="229.0" x2="325.9" y2="234.2" stroke="#1a1a1a" stroke-width="1.15"/>
<line x1="328.3" y1="233.4" x2="328.3" y2="238.6" stroke="#1a1a1a" stroke-width="1.15"/>
<line x1="336.1" y1="252.1" x2="336.1" y2="257.3" stroke="#1a1a1a" stroke-width="1.15"/>
<line x1="384" y1="252.1" x2="384" y2="257.3" stroke="#1a1a1a" stroke-width="1.15"/>
<line x1="401" y1="252.1" x2="401" y2="257.3" stroke="#1a1a1a" stroke-width="1.15"/>
<line x1="403.6" y1="252.1" x2="403.6" y2="257.3" stroke="#1a1a1a" stroke-width="1.15"/>
<line x1="407" y1="252.1" x2="407" y2="257.3" stroke="#1a1a1a" stroke-width="1.15"/>
<line x1="413" y1="252.1" x2="413" y2="257.3" stroke="#1a1a1a" stroke-width="1.15"/>
<line x1="415.7" y1="252.1" x2="415.7" y2="257.3" stroke="#1a1a1a" stroke-width="1.15"/>
<line x1="417.5" y1="252.1" x2="417.5" y2="257.3" stroke="#1a1a1a" stroke-width="1.15"/>
<line x1="426.2" y1="260.29999999999995" x2="426.2" y2="265.5" stroke="#1a1a1a" stroke-width="1.15"/>
<line x1="434.2" y1="260.29999999999995" x2="434.2" y2="265.5" stroke="#1a1a1a" stroke-width="1.15"/>
<line x1="459" y1="260.29999999999995" x2="459" y2="265.5" stroke="#1a1a1a" stroke-width="1.15"/>
<line x1="465.4" y1="260.29999999999995" x2="465.4" y2="265.5" stroke="#1a1a1a" stroke-width="1.15"/>
<line x1="467.1" y1="260.29999999999995" x2="467.1" y2="265.5" stroke="#1a1a1a" stroke-width="1.15"/>
<line x1="477.2" y1="260.29999999999995" x2="477.2" y2="265.5" stroke="#1a1a1a" stroke-width="1.15"/>
<line x1="480.9" y1="260.29999999999995" x2="480.9" y2="265.5" stroke="#1a1a1a" stroke-width="1.15"/>
<line x1="487.7" y1="260.29999999999995" x2="487.7" y2="265.5" stroke="#1a1a1a" stroke-width="1.15"/>
<line x1="500.4" y1="260.29999999999995" x2="500.4" y2="265.5" stroke="#1a1a1a" stroke-width="1.15"/>
<line x1="510" y1="260.29999999999995" x2="510" y2="265.5" stroke="#1a1a1a" stroke-width="1.15"/>
</g>
</svg>
</body></html>
